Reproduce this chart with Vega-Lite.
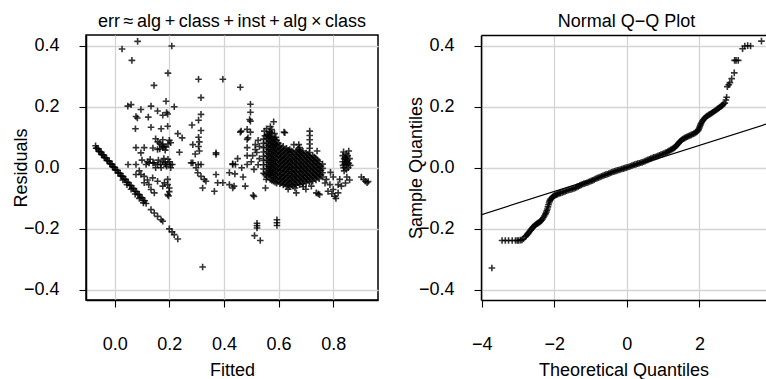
{
  "$schema": "https://vega.github.io/schema/vega-lite/v6.json",
  "background": "white",
  "padding": {"left": 11, "top": 12, "right": 0, "bottom": 0},
  "spacing": 28,
  "config": {
    "font": "Liberation Sans",
    "view": {"stroke": "black", "strokeWidth": 1.5},
    "axis": {
      "grid": true, "gridColor": "#d4d4d4", "gridWidth": 1.3,
      "domainColor": "black", "domainWidth": 1.5,
      "tickColor": "black", "tickSize": 7, "tickWidth": 1.1,
      "labelFont": "Liberation Sans", "labelFontSize": 18, "labelColor": "black",
      "labelFlush": false, "labelOverlap": false, "labelBound": false,
      "titleFont": "Liberation Sans", "titleFontSize": 18, "titleFontWeight": "normal", "titleColor": "black"
    },
    "axisX": {"labelPadding": 28, "titlePadding": 8},
    "axisY": {"labelPadding": 20, "titlePadding": -7},
    "title": {"font": "Liberation Sans", "fontSize": 18, "fontWeight": "normal", "color": "black", "offset": 4}
  },
  "datasets": {
    "resid": [
      {"f":-0.070,"r":0.072},{"f":-0.065,"r":0.064},{"f":-0.060,"r":0.062},{"f":-0.055,"r":0.053},{"f":-0.050,"r":0.052},
      {"f":-0.045,"r":0.043},{"f":-0.040,"r":0.042},{"f":-0.035,"r":0.033},{"f":-0.030,"r":0.032},{"f":-0.025,"r":0.023},
      {"f":-0.020,"r":0.022},{"f":-0.015,"r":0.013},{"f":-0.010,"r":0.012},{"f":-0.005,"r":0.003},{"f":0.000,"r":0.002},
      {"f":0.005,"r":-0.007},{"f":0.010,"r":-0.008},{"f":0.015,"r":-0.017},{"f":0.020,"r":-0.018},{"f":0.025,"r":-0.027},
      {"f":0.030,"r":-0.028},{"f":0.035,"r":-0.037},{"f":0.040,"r":-0.038},{"f":0.045,"r":-0.047},{"f":0.050,"r":-0.048},
      {"f":0.055,"r":-0.057},{"f":0.060,"r":-0.058},{"f":0.065,"r":-0.067},{"f":0.070,"r":-0.068},{"f":0.075,"r":-0.077},
      {"f":0.080,"r":-0.078},{"f":0.085,"r":-0.087},{"f":0.090,"r":-0.088},{"f":0.095,"r":-0.097},{"f":0.100,"r":-0.098},
      {"f":0.105,"r":-0.107},{"f":0.110,"r":-0.108},{"f":0.115,"r":-0.117},
      {"f":-0.068,"r":0.064},{"f":-0.058,"r":0.054},{"f":-0.048,"r":0.044},{"f":-0.038,"r":0.034},{"f":-0.028,"r":0.024},
      {"f":-0.018,"r":0.014},{"f":-0.008,"r":0.004},{"f":0.002,"r":-0.007},{"f":0.012,"r":-0.017},{"f":0.022,"r":-0.027},
      {"f":0.030,"r":-0.040},{"f":0.045,"r":-0.055},{"f":0.060,"r":-0.070},{"f":0.075,"r":-0.086},{"f":0.090,"r":-0.100},{"f":0.105,"r":-0.115},
      {"f":0.133,"r":-0.137},{"f":0.145,"r":-0.148},{"f":0.157,"r":-0.159},{"f":0.170,"r":-0.170},{"f":0.176,"r":-0.175},
      {"f":0.200,"r":-0.200},{"f":0.210,"r":-0.210},{"f":0.218,"r":-0.219},{"f":0.231,"r":-0.233},

      {"f":0.084,"r":0.414},{"f":0.027,"r":0.389},{"f":0.209,"r":0.399},{"f":0.063,"r":0.352},{"f":0.195,"r":0.310},
      {"f":0.144,"r":0.270},{"f":0.307,"r":0.290},{"f":0.396,"r":0.290},{"f":0.316,"r":0.230},{"f":0.460,"r":0.264},
      {"f":0.188,"r":0.218},{"f":0.060,"r":0.207},{"f":0.048,"r":0.202},{"f":0.218,"r":0.200},{"f":0.096,"r":0.191},
      {"f":0.133,"r":0.202},{"f":0.157,"r":0.186},{"f":0.078,"r":0.168},{"f":0.083,"r":0.163},{"f":0.123,"r":0.166},
      {"f":0.176,"r":0.172},{"f":0.190,"r":0.181},{"f":0.194,"r":0.176},{"f":0.316,"r":0.175},{"f":0.307,"r":0.156},
      {"f":0.283,"r":0.140},{"f":0.076,"r":0.128},{"f":0.133,"r":0.133},{"f":0.170,"r":0.128},{"f":0.194,"r":0.136},
      {"f":0.316,"r":0.122},{"f":0.231,"r":0.112},{"f":0.247,"r":0.098},
      {"f":0.150,"r":0.095},{"f":0.158,"r":0.085},{"f":0.165,"r":0.080},{"f":0.172,"r":0.075},{"f":0.180,"r":0.070},
      {"f":0.188,"r":0.068},{"f":0.200,"r":0.090},{"f":0.205,"r":0.082},{"f":0.195,"r":0.078},{"f":0.176,"r":0.092},
      {"f":0.165,"r":0.062},{"f":0.185,"r":0.058},
      {"f":0.307,"r":0.100},{"f":0.310,"r":0.085},{"f":0.307,"r":0.070},{"f":0.286,"r":0.076},{"f":0.078,"r":0.066},
      {"f":0.108,"r":0.066},{"f":0.096,"r":0.049},{"f":0.140,"r":0.065},{"f":0.157,"r":0.060},{"f":0.176,"r":0.068},
      {"f":0.237,"r":0.051},{"f":0.371,"r":0.049},{"f":0.432,"r":0.013},{"f":0.295,"r":0.045},{"f":0.310,"r":0.055},
      {"f":0.049,"r":0.011},{"f":0.078,"r":0.011},{"f":0.115,"r":0.011},{"f":0.140,"r":0.016},{"f":0.157,"r":0.011},
      {"f":0.187,"r":0.011},{"f":0.211,"r":0.011},{"f":0.280,"r":0.016},{"f":0.306,"r":0.011},{"f":0.126,"r":0.016},
      {"f":0.144,"r":0.016},{"f":0.168,"r":0.011},{"f":0.185,"r":0.016},{"f":0.204,"r":0.011},{"f":0.120,"r":0.020},
      {"f":0.175,"r":0.020},{"f":0.200,"r":0.020},{"f":0.190,"r":0.005},{"f":0.100,"r":0.025},{"f":0.130,"r":0.028},
      {"f":0.160,"r":0.025},{"f":0.180,"r":0.030},{"f":0.195,"r":0.028},{"f":0.205,"r":0.000},{"f":0.170,"r":0.000},
      {"f":0.150,"r":0.000},
      {"f":0.096,"r":-0.022},{"f":0.108,"r":-0.028},{"f":0.139,"r":-0.033},{"f":0.157,"r":-0.044},{"f":0.182,"r":-0.049},
      {"f":0.194,"r":-0.055},{"f":0.200,"r":-0.066},{"f":0.078,"r":-0.022},{"f":0.108,"r":-0.049},{"f":0.133,"r":-0.071},
      {"f":0.145,"r":-0.082},{"f":0.194,"r":-0.088},{"f":0.194,"r":-0.038},{"f":0.176,"r":-0.060},{"f":0.120,"r":-0.040},
      {"f":0.090,"r":-0.010},{"f":0.125,"r":-0.055},{"f":0.200,"r":-0.078},{"f":0.197,"r":-0.092},
      {"f":0.286,"r":0.016},{"f":0.298,"r":0.000},{"f":0.316,"r":0.011},{"f":0.304,"r":-0.016},{"f":0.316,"r":-0.028},
      {"f":0.328,"r":-0.038},{"f":0.334,"r":-0.044},{"f":0.322,"r":-0.066},{"f":0.371,"r":0.044},{"f":0.371,"r":-0.022},
      {"f":0.377,"r":-0.049},{"f":0.365,"r":-0.077},{"f":0.396,"r":-0.049},{"f":0.420,"r":-0.055},{"f":0.432,"r":-0.066},
      {"f":0.432,"r":0.011},{"f":0.420,"r":-0.016},{"f":0.322,"r":-0.325},
      {"f":0.497,"r":0.208},{"f":0.497,"r":0.182},{"f":0.497,"r":0.153},{"f":0.485,"r":0.126},{"f":0.460,"r":0.117},
      {"f":0.497,"r":0.117},{"f":0.485,"r":0.093},{"f":0.485,"r":0.066},{"f":0.485,"r":0.040},{"f":0.485,"r":0.011},
      {"f":0.494,"r":0.158},{"f":0.463,"r":0.120},{"f":0.488,"r":0.098},
      {"f":0.582,"r":0.151},{"f":0.620,"r":0.117},{"f":0.623,"r":0.115},{"f":0.656,"r":0.076},{"f":0.674,"r":0.076},
      {"f":0.582,"r":0.076},{"f":0.515,"r":0.076},{"f":0.515,"r":0.060},{"f":0.741,"r":0.055},{"f":0.857,"r":0.055},
      {"f":0.548,"r":0.120},{"f":0.556,"r":0.128},{"f":0.566,"r":0.118},{"f":0.575,"r":0.125},{"f":0.585,"r":0.112},
      {"f":0.560,"r":0.108},{"f":0.590,"r":0.100},{"f":0.550,"r":0.105},{"f":0.570,"r":0.135},{"f":0.525,"r":0.090},
      {"f":0.530,"r":0.070},{"f":0.520,"r":0.050},{"f":0.530,"r":0.030},{"f":0.525,"r":0.010},{"f":0.510,"r":-0.005},
      {"f":0.500,"r":0.020},{"f":0.505,"r":0.040},
      {"f":0.714,"r":0.064},{"f":0.714,"r":0.078},{"f":0.714,"r":0.092},{"f":0.714,"r":0.106},{"f":0.714,"r":0.120},
      {"f":0.442,"r":0.011},{"f":0.437,"r":-0.060},{"f":0.478,"r":-0.060},{"f":0.510,"r":-0.094},{"f":0.507,"r":-0.090},
      {"f":0.552,"r":-0.066},{"f":0.550,"r":-0.022},{"f":0.568,"r":-0.016},{"f":0.555,"r":-0.038},{"f":0.450,"r":0.030},
      {"f":0.465,"r":0.000},{"f":0.470,"r":-0.030},{"f":0.440,"r":-0.020},
      {"f":0.521,"r":-0.190},{"f":0.521,"r":-0.182},{"f":0.521,"r":-0.197},{"f":0.512,"r":-0.222},{"f":0.533,"r":-0.238},
      {"f":0.594,"r":-0.170},{"f":0.594,"r":-0.180},{"f":0.594,"r":-0.189},
      {"f":0.635,"r":-0.070},{"f":0.660,"r":-0.066},{"f":0.690,"r":-0.062},{"f":0.665,"r":-0.082},{"f":0.738,"r":-0.082},
      {"f":0.750,"r":-0.088},{"f":0.745,"r":-0.085},{"f":0.720,"r":-0.060},{"f":0.700,"r":-0.070},
      {"f":0.775,"r":-0.038},{"f":0.788,"r":-0.055},{"f":0.781,"r":-0.077},{"f":0.800,"r":-0.071},{"f":0.806,"r":-0.093},
      {"f":0.818,"r":-0.082},{"f":0.818,"r":-0.055},{"f":0.824,"r":-0.038},{"f":0.800,"r":-0.030},{"f":0.790,"r":-0.015},
      {"f":0.810,"r":-0.100},{"f":0.830,"r":-0.060},{"f":0.770,"r":-0.050},{"f":0.795,"r":-0.085},
      {"f":0.835,"r":0.040},{"f":0.840,"r":0.030},{"f":0.845,"r":0.020},{"f":0.850,"r":0.010},{"f":0.838,"r":0.000},
      {"f":0.845,"r":0.035},{"f":0.852,"r":0.025},{"f":0.857,"r":0.015},{"f":0.848,"r":0.045},{"f":0.842,"r":0.012},
      {"f":0.855,"r":0.000},{"f":0.860,"r":0.030},{"f":0.835,"r":0.020},{"f":0.845,"r":0.027},{"f":0.850,"r":0.016},
      {"f":0.840,"r":-0.010},{"f":0.850,"r":-0.030},{"f":0.845,"r":-0.050},{"f":0.860,"r":-0.040},
      {"f":0.838,"r":0.052},{"f":0.853,"r":0.040},{"f":0.862,"r":0.008},{"f":0.836,"r":0.008},{"f":0.848,"r":-0.005},
      {"f":0.903,"r":-0.030},{"f":0.912,"r":-0.038},{"f":0.918,"r":-0.044},{"f":0.924,"r":-0.049},{"f":0.928,"r":-0.045},

      {"f":0.545,"r":-0.018},{"f":0.545,"r":-0.004},{"f":0.545,"r":0.010},{"f":0.545,"r":0.024},{"f":0.545,"r":0.038},{"f":0.545,"r":0.052},{"f":0.545,"r":0.066},{"f":0.545,"r":0.080},{"f":0.545,"r":0.094},
      {"f":0.557,"r":-0.030},{"f":0.557,"r":-0.017},{"f":0.557,"r":-0.003},{"f":0.557,"r":0.011},{"f":0.557,"r":0.025},{"f":0.557,"r":0.039},{"f":0.557,"r":0.053},{"f":0.557,"r":0.067},{"f":0.557,"r":0.081},{"f":0.557,"r":0.095},{"f":0.557,"r":0.108},
      {"f":0.569,"r":-0.038},{"f":0.569,"r":-0.024},{"f":0.569,"r":-0.010},{"f":0.569,"r":0.004},{"f":0.569,"r":0.018},{"f":0.569,"r":0.032},{"f":0.569,"r":0.046},{"f":0.569,"r":0.060},{"f":0.569,"r":0.074},{"f":0.569,"r":0.088},{"f":0.569,"r":0.102},{"f":0.569,"r":0.116},
      {"f":0.581,"r":-0.044},{"f":0.581,"r":-0.030},{"f":0.581,"r":-0.016},{"f":0.581,"r":-0.002},{"f":0.581,"r":0.012},{"f":0.581,"r":0.026},{"f":0.581,"r":0.040},{"f":0.581,"r":0.054},{"f":0.581,"r":0.068},{"f":0.581,"r":0.082},{"f":0.581,"r":0.096},
      {"f":0.593,"r":-0.050},{"f":0.593,"r":-0.036},{"f":0.593,"r":-0.022},{"f":0.593,"r":-0.008},{"f":0.593,"r":0.006},{"f":0.593,"r":0.020},{"f":0.593,"r":0.034},{"f":0.593,"r":0.048},{"f":0.593,"r":0.062},{"f":0.593,"r":0.076},{"f":0.593,"r":0.090},
      {"f":0.605,"r":-0.052},{"f":0.605,"r":-0.038},{"f":0.605,"r":-0.024},{"f":0.605,"r":-0.010},{"f":0.605,"r":0.004},{"f":0.605,"r":0.018},{"f":0.605,"r":0.032},{"f":0.605,"r":0.046},{"f":0.605,"r":0.060},{"f":0.605,"r":0.074},
      {"f":0.617,"r":-0.056},{"f":0.617,"r":-0.042},{"f":0.617,"r":-0.028},{"f":0.617,"r":-0.014},{"f":0.617,"r":0.000},{"f":0.617,"r":0.014},{"f":0.617,"r":0.028},{"f":0.617,"r":0.042},{"f":0.617,"r":0.056},{"f":0.617,"r":0.070},
      {"f":0.629,"r":-0.060},{"f":0.629,"r":-0.046},{"f":0.629,"r":-0.032},{"f":0.629,"r":-0.018},{"f":0.629,"r":-0.004},{"f":0.629,"r":0.010},{"f":0.629,"r":0.024},{"f":0.629,"r":0.038},{"f":0.629,"r":0.052},{"f":0.629,"r":0.064},
      {"f":0.641,"r":-0.062},{"f":0.641,"r":-0.048},{"f":0.641,"r":-0.034},{"f":0.641,"r":-0.020},{"f":0.641,"r":-0.006},{"f":0.641,"r":0.008},{"f":0.641,"r":0.022},{"f":0.641,"r":0.036},{"f":0.641,"r":0.050},{"f":0.641,"r":0.060},
      {"f":0.653,"r":-0.060},{"f":0.653,"r":-0.046},{"f":0.653,"r":-0.032},{"f":0.653,"r":-0.018},{"f":0.653,"r":-0.004},{"f":0.653,"r":0.010},{"f":0.653,"r":0.024},{"f":0.653,"r":0.038},{"f":0.653,"r":0.052},
      {"f":0.665,"r":-0.056},{"f":0.665,"r":-0.042},{"f":0.665,"r":-0.028},{"f":0.665,"r":-0.014},{"f":0.665,"r":0.000},{"f":0.665,"r":0.014},{"f":0.665,"r":0.028},{"f":0.665,"r":0.042},{"f":0.665,"r":0.056},
      {"f":0.677,"r":-0.055},{"f":0.677,"r":-0.041},{"f":0.677,"r":-0.027},{"f":0.677,"r":-0.013},{"f":0.677,"r":0.001},{"f":0.677,"r":0.015},{"f":0.677,"r":0.029},{"f":0.677,"r":0.043},{"f":0.677,"r":0.057},{"f":0.677,"r":0.066},
      {"f":0.689,"r":-0.052},{"f":0.689,"r":-0.038},{"f":0.689,"r":-0.024},{"f":0.689,"r":-0.010},{"f":0.689,"r":0.004},{"f":0.689,"r":0.018},{"f":0.689,"r":0.032},{"f":0.689,"r":0.046},{"f":0.689,"r":0.055},
      {"f":0.701,"r":-0.050},{"f":0.701,"r":-0.036},{"f":0.701,"r":-0.022},{"f":0.701,"r":-0.008},{"f":0.701,"r":0.006},{"f":0.701,"r":0.020},{"f":0.701,"r":0.034},{"f":0.701,"r":0.048},
      {"f":0.713,"r":-0.046},{"f":0.713,"r":-0.032},{"f":0.713,"r":-0.018},{"f":0.713,"r":-0.004},{"f":0.713,"r":0.010},{"f":0.713,"r":0.024},{"f":0.713,"r":0.038},{"f":0.713,"r":0.050},
      {"f":0.725,"r":-0.044},{"f":0.725,"r":-0.030},{"f":0.725,"r":-0.016},{"f":0.725,"r":-0.002},{"f":0.725,"r":0.012},{"f":0.725,"r":0.026},{"f":0.725,"r":0.040},
      {"f":0.737,"r":-0.040},{"f":0.737,"r":-0.026},{"f":0.737,"r":-0.012},{"f":0.737,"r":0.002},{"f":0.737,"r":0.016},{"f":0.737,"r":0.030},
      {"f":0.749,"r":-0.036},{"f":0.749,"r":-0.022},{"f":0.749,"r":-0.008},{"f":0.749,"r":0.006},{"f":0.749,"r":0.020},
      {"f":0.761,"r":-0.030},{"f":0.761,"r":-0.016},{"f":0.761,"r":-0.002},{"f":0.761,"r":0.012},

      {"f":0.563,"r":-0.024},{"f":0.563,"r":-0.010},{"f":0.563,"r":0.004},{"f":0.563,"r":0.018},{"f":0.563,"r":0.032},{"f":0.563,"r":0.046},{"f":0.563,"r":0.060},{"f":0.563,"r":0.074},{"f":0.563,"r":0.088},{"f":0.563,"r":0.102},
      {"f":0.575,"r":-0.041},{"f":0.575,"r":-0.027},{"f":0.575,"r":-0.013},{"f":0.575,"r":0.001},{"f":0.575,"r":0.015},{"f":0.575,"r":0.029},{"f":0.575,"r":0.043},{"f":0.575,"r":0.057},{"f":0.575,"r":0.071},{"f":0.575,"r":0.085},{"f":0.575,"r":0.099},{"f":0.575,"r":0.113},
      {"f":0.587,"r":-0.047},{"f":0.587,"r":-0.033},{"f":0.587,"r":-0.019},{"f":0.587,"r":-0.005},{"f":0.587,"r":0.009},{"f":0.587,"r":0.023},{"f":0.587,"r":0.037},{"f":0.587,"r":0.051},{"f":0.587,"r":0.065},{"f":0.587,"r":0.079},{"f":0.587,"r":0.093},
      {"f":0.599,"r":-0.045},{"f":0.599,"r":-0.031},{"f":0.599,"r":-0.017},{"f":0.599,"r":-0.003},{"f":0.599,"r":0.011},{"f":0.599,"r":0.025},{"f":0.599,"r":0.039},{"f":0.599,"r":0.053},{"f":0.599,"r":0.067},{"f":0.599,"r":0.081},
      {"f":0.611,"r":-0.049},{"f":0.611,"r":-0.035},{"f":0.611,"r":-0.021},{"f":0.611,"r":-0.007},{"f":0.611,"r":0.007},{"f":0.611,"r":0.021},{"f":0.611,"r":0.035},{"f":0.611,"r":0.049},{"f":0.611,"r":0.063},
      {"f":0.623,"r":-0.053},{"f":0.623,"r":-0.039},{"f":0.623,"r":-0.025},{"f":0.623,"r":-0.011},{"f":0.623,"r":0.003},{"f":0.623,"r":0.017},{"f":0.623,"r":0.031},{"f":0.623,"r":0.045},{"f":0.623,"r":0.059},
      {"f":0.635,"r":-0.055},{"f":0.635,"r":-0.041},{"f":0.635,"r":-0.027},{"f":0.635,"r":-0.013},{"f":0.635,"r":0.001},{"f":0.635,"r":0.015},{"f":0.635,"r":0.029},{"f":0.635,"r":0.043},{"f":0.635,"r":0.057},
      {"f":0.647,"r":-0.055},{"f":0.647,"r":-0.041},{"f":0.647,"r":-0.027},{"f":0.647,"r":-0.013},{"f":0.647,"r":0.001},{"f":0.647,"r":0.015},{"f":0.647,"r":0.029},{"f":0.647,"r":0.043},{"f":0.647,"r":0.055},
      {"f":0.659,"r":-0.053},{"f":0.659,"r":-0.039},{"f":0.659,"r":-0.025},{"f":0.659,"r":-0.011},{"f":0.659,"r":0.003},{"f":0.659,"r":0.017},{"f":0.659,"r":0.031},{"f":0.659,"r":0.045},
      {"f":0.671,"r":-0.049},{"f":0.671,"r":-0.035},{"f":0.671,"r":-0.021},{"f":0.671,"r":-0.007},{"f":0.671,"r":0.007},{"f":0.671,"r":0.021},{"f":0.671,"r":0.035},{"f":0.671,"r":0.049},{"f":0.671,"r":0.061},
      {"f":0.683,"r":-0.045},{"f":0.683,"r":-0.031},{"f":0.683,"r":-0.017},{"f":0.683,"r":-0.003},{"f":0.683,"r":0.011},{"f":0.683,"r":0.025},{"f":0.683,"r":0.039},{"f":0.683,"r":0.052},
      {"f":0.695,"r":-0.043},{"f":0.695,"r":-0.029},{"f":0.695,"r":-0.015},{"f":0.695,"r":-0.001},{"f":0.695,"r":0.013},{"f":0.695,"r":0.027},{"f":0.695,"r":0.041},
      {"f":0.707,"r":-0.039},{"f":0.707,"r":-0.025},{"f":0.707,"r":-0.011},{"f":0.707,"r":0.003},{"f":0.707,"r":0.017},{"f":0.707,"r":0.031},{"f":0.707,"r":0.044},
      {"f":0.719,"r":-0.037},{"f":0.719,"r":-0.023},{"f":0.719,"r":-0.009},{"f":0.719,"r":0.005},{"f":0.719,"r":0.019},{"f":0.719,"r":0.033},
      {"f":0.731,"r":-0.033},{"f":0.731,"r":-0.019},{"f":0.731,"r":-0.005},{"f":0.731,"r":0.009},{"f":0.731,"r":0.023},{"f":0.731,"r":0.035},
      {"f":0.743,"r":-0.029},{"f":0.743,"r":-0.015},{"f":0.743,"r":-0.001},{"f":0.743,"r":0.013},{"f":0.743,"r":0.025},
      {"f":0.755,"r":-0.023},{"f":0.755,"r":-0.009},{"f":0.755,"r":0.005}
    ],
    "qq": [
      {"q":-3.72,"s":-0.328},
      {"q":-3.44,"s":-0.238},{"q":-3.35,"s":-0.238},{"q":-3.26,"s":-0.238},{"q":-3.16,"s":-0.238},{"q":-3.07,"s":-0.238},
      {"q":-3.02,"s":-0.238},{"q":-2.98,"s":-0.238},{"q":-2.93,"s":-0.237},{"q":-2.89,"s":-0.236},{"q":-2.85,"s":-0.232},
      {"q":-2.80,"s":-0.226},{"q":-2.75,"s":-0.219},{"q":-2.70,"s":-0.212},{"q":-2.65,"s":-0.204},{"q":-2.60,"s":-0.196},
      {"q":-2.55,"s":-0.190},{"q":-2.50,"s":-0.185},{"q":-2.45,"s":-0.181},{"q":-2.40,"s":-0.177},{"q":-2.35,"s":-0.172},
      {"q":-2.30,"s":-0.163},{"q":-2.25,"s":-0.153},{"q":-2.22,"s":-0.145},{"q":-2.19,"s":-0.135},{"q":-2.16,"s":-0.121},
      {"q":-2.13,"s":-0.110},{"q":-2.10,"s":-0.102},{"q":-2.05,"s":-0.096},{"q":-2.00,"s":-0.091},{"q":-1.94,"s":-0.088},
      {"q":-1.88,"s":-0.084},{"q":-1.82,"s":-0.082},{"q":-1.74,"s":-0.079},{"q":-1.66,"s":-0.075},{"q":-1.58,"s":-0.072},
      {"q":-1.50,"s":-0.069},{"q":-1.42,"s":-0.066},{"q":-1.34,"s":-0.061},{"q":-1.26,"s":-0.056},{"q":-1.18,"s":-0.052},
      {"q":-1.10,"s":-0.049},{"q":-1.02,"s":-0.045},{"q":-0.94,"s":-0.041},{"q":-0.86,"s":-0.036},{"q":-0.78,"s":-0.032},
      {"q":-0.70,"s":-0.028},{"q":-0.62,"s":-0.024},{"q":-0.54,"s":-0.021},{"q":-0.46,"s":-0.017},{"q":-0.38,"s":-0.013},
      {"q":-0.30,"s":-0.010},{"q":-0.22,"s":-0.007},{"q":-0.14,"s":-0.004},{"q":-0.06,"s":-0.001},{"q":0.02,"s":0.002},
      {"q":0.10,"s":0.005},{"q":0.18,"s":0.009},{"q":0.26,"s":0.012},{"q":0.34,"s":0.015},{"q":0.42,"s":0.018},
      {"q":0.50,"s":0.022},{"q":0.58,"s":0.026},{"q":0.66,"s":0.030},{"q":0.74,"s":0.034},{"q":0.82,"s":0.037},
      {"q":0.90,"s":0.041},{"q":0.98,"s":0.045},{"q":1.06,"s":0.049},{"q":1.13,"s":0.053},{"q":1.20,"s":0.058},
      {"q":1.26,"s":0.062},{"q":1.32,"s":0.067},{"q":1.37,"s":0.073},{"q":1.42,"s":0.080},{"q":1.47,"s":0.087},
      {"q":1.53,"s":0.093},{"q":1.60,"s":0.098},{"q":1.67,"s":0.102},{"q":1.74,"s":0.106},{"q":1.81,"s":0.110},
      {"q":1.88,"s":0.114},{"q":1.94,"s":0.119},{"q":1.98,"s":0.126},{"q":2.01,"s":0.135},{"q":2.04,"s":0.144},
      {"q":2.08,"s":0.153},{"q":2.13,"s":0.161},{"q":2.19,"s":0.168},{"q":2.25,"s":0.173},{"q":2.31,"s":0.177},
      {"q":2.37,"s":0.182},{"q":2.43,"s":0.187},{"q":2.49,"s":0.192},{"q":2.55,"s":0.197},{"q":2.61,"s":0.203},
      {"q":2.66,"s":0.208},{"q":2.70,"s":0.212},{"q":2.73,"s":0.222},{"q":2.75,"s":0.231},
      {"q":2.77,"s":0.266},{"q":2.81,"s":0.272},{"q":2.84,"s":0.279},{"q":2.89,"s":0.292},{"q":2.96,"s":0.311},
      {"q":2.97,"s":0.352},{"q":3.01,"s":0.352},{"q":3.07,"s":0.352},{"q":3.19,"s":0.390},{"q":3.25,"s":0.399},
      {"q":3.33,"s":0.400},{"q":3.41,"s":0.399},{"q":3.71,"s":0.415},
      {"q":-2.775,"s":-0.2225},{"q":-2.725,"s":-0.2155},{"q":-2.675,"s":-0.208},{"q":-2.625,"s":-0.200},{"q":-2.575,"s":-0.193},
      {"q":-2.525,"s":-0.1875},{"q":-2.475,"s":-0.183},{"q":-2.425,"s":-0.179},{"q":-2.375,"s":-0.1745},{"q":-2.325,"s":-0.1675},
      {"q":-2.275,"s":-0.158},{"q":-2.235,"s":-0.149},{"q":-2.205,"s":-0.140},{"q":-2.175,"s":-0.128},{"q":-2.145,"s":-0.1155},
      {"q":-2.115,"s":-0.106},{"q":-2.075,"s":-0.099},{"q":-2.025,"s":-0.0935},
      {"q":-1.97,"s":-0.0895},{"q":-1.91,"s":-0.086},{"q":-1.85,"s":-0.083},{"q":-1.78,"s":-0.0805},{"q":-1.70,"s":-0.077},
      {"q":-1.62,"s":-0.0735},{"q":-1.54,"s":-0.0705},{"q":-1.46,"s":-0.0675},{"q":-1.38,"s":-0.0635},{"q":-1.30,"s":-0.0585},
      {"q":-1.22,"s":-0.054},{"q":-1.14,"s":-0.0505},{"q":-1.06,"s":-0.047},{"q":-0.98,"s":-0.043},{"q":-0.90,"s":-0.0385},
      {"q":-0.82,"s":-0.034},{"q":-0.74,"s":-0.030},{"q":-0.66,"s":-0.026},{"q":-0.58,"s":-0.0225},{"q":-0.50,"s":-0.019},
      {"q":-0.42,"s":-0.015},{"q":-0.34,"s":-0.0115},{"q":-0.26,"s":-0.0085},{"q":-0.18,"s":-0.0055},{"q":-0.10,"s":-0.0025},
      {"q":-0.02,"s":0.0005},{"q":0.06,"s":0.0035},{"q":0.14,"s":0.007},{"q":0.22,"s":0.0105},{"q":0.30,"s":0.0135},
      {"q":0.38,"s":0.0165},{"q":0.46,"s":0.020},{"q":0.54,"s":0.024},{"q":0.62,"s":0.028},{"q":0.70,"s":0.032},
      {"q":0.78,"s":0.0355},{"q":0.86,"s":0.039},{"q":0.94,"s":0.043},{"q":1.02,"s":0.047},{"q":1.095,"s":0.051},
      {"q":1.165,"s":0.0555},{"q":1.23,"s":0.060},{"q":1.29,"s":0.0645},{"q":1.345,"s":0.070},{"q":1.395,"s":0.0765},
      {"q":1.445,"s":0.0835},{"q":1.50,"s":0.090},{"q":1.565,"s":0.0955},{"q":1.635,"s":0.100},{"q":1.705,"s":0.104},
      {"q":1.775,"s":0.108},{"q":1.845,"s":0.112},{"q":1.91,"s":0.1165},{"q":1.96,"s":0.1225},{"q":1.995,"s":0.1305},
      {"q":2.025,"s":0.1395},{"q":2.06,"s":0.1485},{"q":2.105,"s":0.157},{"q":2.16,"s":0.1645},{"q":2.22,"s":0.1705},
      {"q":2.28,"s":0.175},{"q":2.34,"s":0.1795},{"q":2.40,"s":0.1845},{"q":2.46,"s":0.1895},{"q":2.52,"s":0.1945},
      {"q":2.58,"s":0.200},{"q":2.635,"s":0.2055}
    ],
    "qqline": [
      {"q":-4.5,"s":-0.172},{"q":4.5,"s":0.168}
    ]
  },
  "hconcat": [
    {
      "width": 292,
      "height": 265,
      "title": {"text": "err\u2009≈\u2009alg\u2009+\u2009class\u2009+\u2009inst\u2009+\u2009alg\u2009×\u2009class"},
      "data": {"name": "resid"},
      "mark": {"type": "point", "shape": "M-1,0L1,0M0,-1L0,1", "filled": false, "stroke": "black", "strokeWidth": 1.6, "strokeOpacity": 0.8, "opacity": 1, "size": 44, "clip": true},
      "encoding": {
        "x": {"field": "f", "type": "quantitative", "scale": {"domain": [-0.105, 0.964], "nice": false, "zero": false}, "axis": {"values": [0, 0.2, 0.4, 0.6, 0.8], "format": ".1f", "title": "Fitted"}},
        "y": {"field": "r", "type": "quantitative", "scale": {"domain": [-0.433, 0.435], "nice": false, "zero": false}, "axis": {"values": [-0.4, -0.2, 0, 0.2, 0.4], "format": ".1f", "title": "Residuals"}}
      }
    },
    {
      "width": 285,
      "height": 265,
      "title": {"text": "Normal Q−Q Plot", "dx": 3},
      "view": {"stroke": null},
      "layer": [
        {
          "data": {"name": "qq"},
          "mark": {"type": "point", "shape": "M-1,0L1,0M0,-1L0,1", "filled": false, "stroke": "black", "strokeWidth": 1.6, "strokeOpacity": 0.8, "opacity": 1, "size": 44, "clip": true},
          "encoding": {
            "x": {"field": "q", "type": "quantitative", "scale": {"domain": [-4.02, 3.835], "nice": false, "zero": false}, "axis": {"values": [-4, -2, 0, 2], "format": "d", "title": "Theoretical Quantiles"}},
            "y": {"field": "s", "type": "quantitative", "scale": {"domain": [-0.433, 0.435], "nice": false, "zero": false}, "axis": {"values": [-0.4, -0.2, 0, 0.2, 0.4], "format": ".1f", "title": "Sample Quantiles"}}
          }
        },
        {
          "data": {"name": "qqline"},
          "mark": {"type": "line", "color": "black", "strokeWidth": 1.2, "clip": true},
          "encoding": {
            "x": {"field": "q", "type": "quantitative", "axis": {"orient": "top", "labels": false, "ticks": false, "grid": false, "title": null, "domain": true}},
            "y": {"field": "s", "type": "quantitative"}
          }
        }
      ],
      "resolve": {"axis": {"x": "independent"}}
    }
  ]
}
